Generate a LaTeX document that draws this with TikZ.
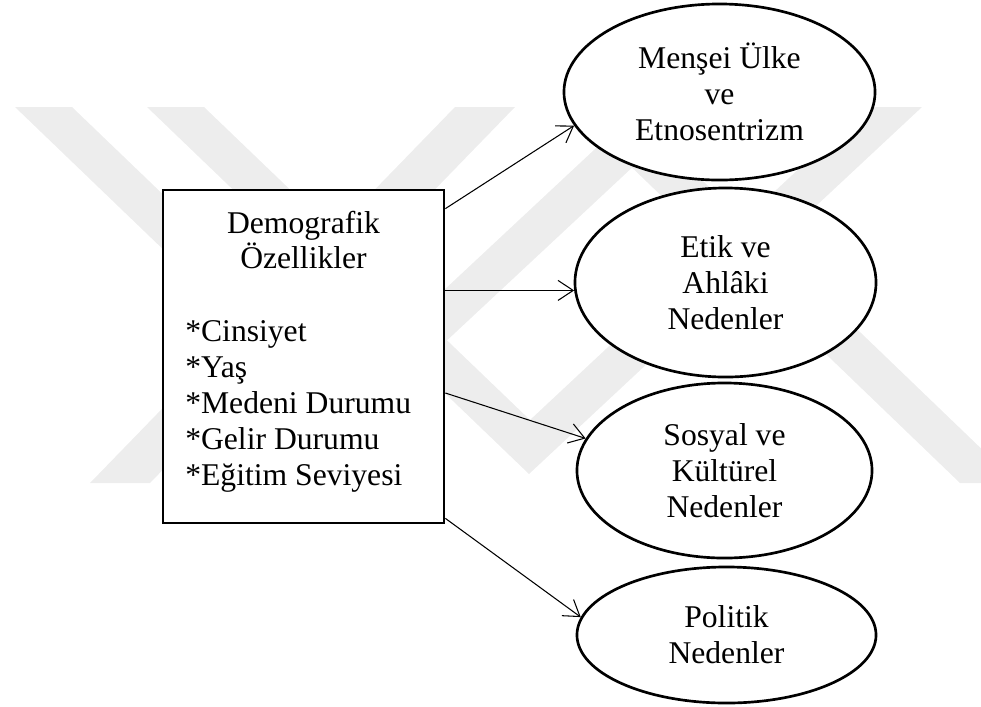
\documentclass[tikz,border=0pt]{standalone}
\usepackage{fontspec}
\setmainfont{Liberation Serif}
\usetikzlibrary{shapes.geometric,arrows.meta}

\begin{document}
\begin{tikzpicture}[x=0.025cm, y=-0.025cm,
        yazi/.style={font=\fontsize{22.5}{25.5}\selectfont, inner sep=0pt},
        kutu/.style={draw, line width=1.9pt, fill=white, minimum width=7.025cm, minimum height=8.325cm},
        oval/.style={ellipse, draw, line width=1.9pt, fill=white, align=center, inner sep=0pt,
            font=\fontsize{22.5}{25.5}\selectfont},
        pfeil/.style={-{Straight Barb[length=3.8mm, width=5mm]}, line width=0.75pt}]
        % Farben
        \definecolor{wzGrau}{HTML}{EDEDED}

        \useasboundingbox (0,0) rectangle (981,706);

        % Wasserzeichen im Hintergrund
        \fill[wzGrau] (15,107) -- (72,107) -- (352,376) -- (640,107) -- (697,107) -- (351,430) -- cycle;
        \fill[wzGrau] (147,107) -- (204,107) -- (530,420) -- (865,107) -- (922,107) -- (529,474) -- cycle;
        \fill[wzGrau] (455,107) -- (515,107) -- (150,483) -- (90,483) -- cycle;
        \fill[wzGrau] (569,107) -- (626,107) -- (1017,483) -- (960,483) -- cycle;

        % Kasten links
        \node[kutu] (demo) at (303.5,356.5) {};
        \node[yazi, anchor=base] (baslik1) at (303.5,233) {Demografik};
        \node[yazi, anchor=base] (baslik2) at (303.5,268.5) {Özellikler};
        \foreach \t/\y [count=\i] in {*Cinsiyet/341.5, *Yaş/377.4, *Medeni Durumu/413.3,
            *Gelir Durumu/449.2, *Eğitim Seviyesi/485.1}
            \node[yazi, anchor=base west] (madde\i) at (185,\y) {\t};

        % Ellipsen: Name / x / y / Breite / Hoehe / Text
        \foreach \n/\x/\y/\b/\h/\t in {
            mensei/719.5/92/7.775/4.4/{Menşei Ülke\\ve\\Etnosentrizm},
            etik/725.5/282.5/7.525/4.725/{Etik ve\\Ahlâki\\Nedenler},
            sosyal/724.5/470.5/7.375/4.375/{Sosyal ve\\Kültürel\\Nedenler},
            politik/726.5/635/7.475/3.4/{Politik\\Nedenler}}
        {
            \node[oval, minimum width=\b cm, minimum height=\h cm] (\n) at (\x,\y) {\t};
        }

        % Pfeile
        \draw[pfeil] ([yshift=-0.5cm]demo.north east) -- (mensei.193);
        \draw[pfeil] (demo.east |- etik.183) -- (etik.183);
        \draw[pfeil] ([yshift=-0.9125cm]demo.east) -- (sosyal.167.5);
        \draw[pfeil] ([yshift=0.15cm]demo.south east) -- (politik.173.2);
\end{tikzpicture}
\end{document}
